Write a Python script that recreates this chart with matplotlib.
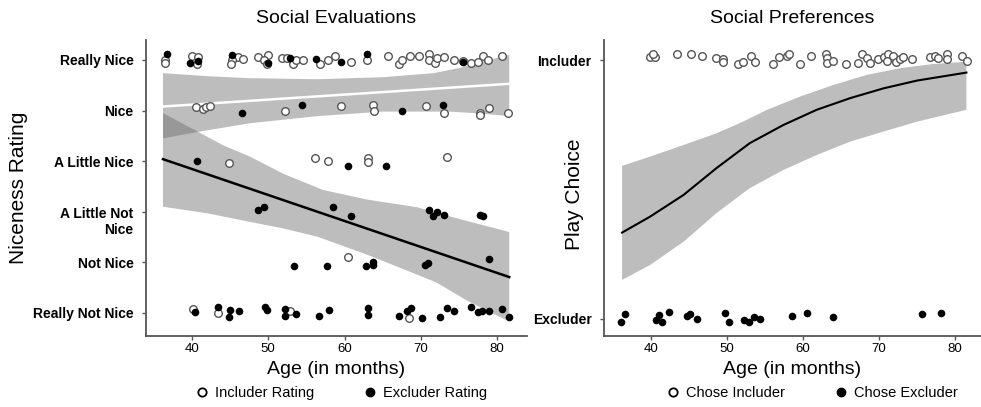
import matplotlib.pyplot as plt
from matplotlib.lines import Line2D
from matplotlib.transforms import ScaledTranslation

plt.rcParams['font.family'] = ['Liberation Sans', 'DejaVu Sans']

# ---- Social Evaluations: ratings (1 = Really Not Nice ... 6 = Really Nice) ----
rating_labels = ["Really Not Nice", "Not Nice", "A Little Not\nNice",
                 "A Little Nice", "Nice", "Really Nice"]

incl_age = [36.5, 36.5, 40.0, 40.8, 40.6, 46.0, 46.7, 45.2, 45.1, 48.7, 50.0, 49.4,
            49.8, 51.8, 52.4, 53.3, 53.2, 53.7, 54.5, 56.8, 57.9, 58.7, 60.9, 62.9,
            65.7, 67.1, 67.6, 68.6, 69.8, 71.1, 71.1, 71.9, 72.1, 73.0, 74.4, 75.6,
            76.6, 77.5, 78.2, 78.8, 80.7,
            40.5, 41.5, 41.9, 42.4, 52.2, 59.5, 63.7, 63.9, 70.7, 73.1, 77.8, 77.8,
            78.9, 81.5,
            44.8, 56.1, 57.9, 63.1, 63.1, 73.4,
            60.4,
            40.1, 43.4, 52.9, 68.4]
incl_rating = [6.00, 5.94, 6.07, 6.06, 5.92, 6.05, 6.01, 6.00, 5.92, 6.05, 6.10, 6.00,
               5.92, 6.03, 6.03, 5.97, 5.92, 6.00, 6.00, 5.93, 6.00, 6.08, 5.97, 5.99,
               6.08, 5.92, 5.99, 6.08, 6.08, 6.11, 6.00, 5.95, 6.04, 6.05, 6.00, 5.98,
               5.95, 5.96, 6.08, 6.00, 6.08,
               5.08, 5.03, 5.07, 5.10, 4.99, 5.10, 5.11, 4.99, 5.09, 4.96, 4.96, 4.91,
               5.05, 4.95,
               3.96, 4.07, 4.01, 4.06, 3.99, 4.09,
               2.10,
               1.08, 1.00, 1.04, 0.91]

excl_age = [36.7, 39.8, 40.8, 45.2, 50.0, 52.9, 56.3, 59.6, 62.9, 75.5,
            46.6, 54.4, 67.6, 72.9,
            40.6, 60.4, 65.5,
            48.6, 49.4, 58.5, 60.9, 71.1, 72.1, 71.6, 73.1, 77.8, 78.2,
            53.4, 57.7, 62.8, 63.8, 63.8, 70.6, 71.0, 78.9,
            40.4, 43.4, 44.8, 45.0, 46.1, 49.6, 49.8, 52.2, 52.2, 53.7, 56.7, 58.0,
            63.1, 63.1, 67.1, 68.2, 68.7, 70.1, 72.5, 73.5, 74.3, 76.6, 77.5, 78.0,
            78.9, 80.7, 81.6]
excl_rating = [6.11, 5.94, 5.98, 6.10, 5.95, 6.03, 6.02, 5.97, 6.11, 5.97,
               4.95, 5.11, 5.00, 5.11,
               4.01, 3.91, 3.91,
               3.04, 3.09, 3.09, 2.92, 3.03, 3.00, 2.92, 2.94, 2.94, 2.92,
               1.93, 1.93, 1.93, 2.01, 1.95, 1.95, 1.99, 2.06,
               1.01, 1.12, 0.93, 1.05, 1.03, 1.11, 1.06, 1.08, 0.94, 0.97, 0.95, 1.05,
               1.09, 0.96, 0.95, 1.04, 1.10, 0.91, 0.93, 1.09, 1.04, 1.11, 1.02, 1.04,
               1.04, 1.08, 0.93]

# fitted lines and confidence bands
incl_fit_age = [36.2, 81.6]
incl_fit = [5.08, 5.53]
incl_up_age = [36.2, 42.0, 47.6, 56.4, 65.1, 71.7, 75.0, 78.2, 81.6]
incl_up = [5.74, 5.68, 5.64, 5.62, 5.66, 5.74, 5.84, 5.97, 6.10]
incl_lo_age = [36.2, 40.8, 47.6, 56.4, 65.0, 73.8, 78.0, 81.6]
incl_lo = [4.45, 4.58, 4.75, 4.89, 4.98, 4.98, 4.94, 4.89]

excl_fit_age = [36.2, 81.6]
excl_fit = [4.04, 1.71]
excl_up_age = [36.2, 40.8, 44.0, 47.6, 52.0, 57.2, 63.0, 69.5, 75.0, 81.6]
excl_up = [4.95, 4.58, 4.32, 4.09, 3.75, 3.43, 3.24, 3.09, 2.86, 2.60]
excl_lo_age = [36.2, 42.0, 47.6, 52.0, 56.4, 63.0, 68.0, 72.1, 76.0, 81.6]
excl_lo = [3.10, 2.97, 2.80, 2.67, 2.51, 2.15, 1.85, 1.60, 1.25, 0.83]

# ---- Social Preferences: play choice (1 = Includer, 0 = Excluder) ----
choice_labels = ["Excluder", "Includer"]

ci_age = [39.9, 40.5, 40.3, 43.4, 45.3, 46.7, 48.6, 49.5, 49.5, 51.5, 52.1, 53.2,
          53.7, 56.1, 56.8, 57.9, 58.1, 59.6, 61.0, 63.0, 63.1, 63.1, 63.9, 65.6,
          67.2, 67.7, 68.4, 68.8, 69.9, 70.6, 71.2, 71.0, 71.9, 72.3, 72.8, 73.2,
          74.3, 76.7, 77.4, 77.8, 78.9, 78.9, 80.9, 81.6]
ci_val = [1.015, 1.015, 1.023, 1.026, 1.023, 1.019, 1.010, 1.006, 0.993, 0.985,
          0.993, 1.019, 0.993, 0.985, 1.015, 1.019, 1.023, 0.987, 1.019, 1.026,
          1.010, 0.990, 0.997, 0.987, 0.990, 1.026, 1.010, 0.990, 1.006, 1.013,
          1.023, 0.997, 1.019, 0.993, 1.006, 1.013, 1.006, 1.013, 1.019, 1.010,
          1.023, 1.006, 1.019, 0.997]

ce_age = [36.1, 36.6, 40.7, 41.0, 41.5, 42.4, 44.7, 45.1, 46.0, 49.7, 50.2, 52.3,
          52.9, 53.5, 54.3, 58.6, 60.5, 63.9, 75.6, 78.2]
ce_val = [-0.010, 0.019, -0.004, 0.015, -0.013, 0.026, 0.012, 0.019, -0.001, 0.022,
          -0.013, -0.006, -0.013, 0.009, 0.000, 0.013, 0.022, 0.007, 0.018, 0.022]

pref_fit_age = [36.2, 39.9, 44.3, 48.6, 53.0, 57.4, 61.8, 66.2, 70.6, 75.0, 81.5]
pref_fit = [0.334, 0.396, 0.480, 0.583, 0.680, 0.750, 0.809, 0.854, 0.892, 0.922, 0.953]
pref_up_age = [36.2, 39.9, 44.3, 48.6, 52.1, 55.2, 59.6, 64.0, 68.4, 72.8, 77.1, 81.5]
pref_up = [0.592, 0.628, 0.673, 0.718, 0.763, 0.808, 0.860, 0.905, 0.944, 0.970,
           0.986, 0.995]
pref_lo_age = [36.2, 39.9, 44.3, 48.6, 53.0, 57.4, 61.8, 66.2, 70.6, 75.0, 81.5]
pref_lo = [0.151, 0.209, 0.299, 0.409, 0.506, 0.576, 0.634, 0.686, 0.725, 0.763, 0.809]

band_color = "#6d6d6d"
band_alpha = 0.45
edge_grey = "#555555"


def band(ax, up_x, up_y, lo_x, lo_y):
    xs = list(up_x) + list(lo_x)[::-1]
    ys = list(up_y) + list(lo_y)[::-1]
    ax.fill(xs, ys, color=band_color, alpha=band_alpha, lw=0, zorder=1)


def style_axes(ax):
    for s in ["top", "right"]:
        ax.spines[s].set_visible(False)
    for s in ["left", "bottom"]:
        ax.spines[s].set_color(edge_grey)
        ax.spines[s].set_linewidth(1.3)
    ax.tick_params(axis="both", colors=edge_grey, length=3, width=1)
    ax.tick_params(axis="x", labelsize=9.5, labelcolor="black", pad=2)
    ax.tick_params(axis="y", labelsize=10, labelcolor="black", pad=6)
    for lab in ax.get_yticklabels():
        lab.set_fontweight("bold")
    ax.set_xticks([40, 50, 60, 70, 80])


fig = plt.figure(figsize=(9.81, 4.07), dpi=100)
ax1 = fig.add_axes([146 / 981, 71 / 407, 381 / 981, 296 / 407])
ax2 = fig.add_axes([604 / 981, 71 / 407, 377 / 981, 296 / 407])

# left panel
band(ax1, incl_up_age, incl_up, incl_lo_age, incl_lo)
band(ax1, excl_up_age, excl_up, excl_lo_age, excl_lo)
ax1.plot(incl_fit_age, incl_fit, color="white", lw=1.8, zorder=2)
ax1.plot(excl_fit_age, excl_fit, color="black", lw=1.8, zorder=2)
ax1.scatter(incl_age, incl_rating, s=30, facecolors="white", edgecolors=edge_grey,
            linewidths=1.0, zorder=3)
ax1.scatter(excl_age, excl_rating, s=30, color="black", lw=0, zorder=4)
ax1.set_xlim(33.97, 83.93)
ax1.set_ylim(0.545, 6.395)
ax1.set_yticks(range(1, 7))
ax1.set_yticklabels(rating_labels)
style_axes(ax1)
ax1.set_title("Social Evaluations", fontsize=14, pad=12)
ax1.set_xlabel("Age (in months)", fontsize=14, labelpad=4)
ax1.set_ylabel("Niceness Rating", fontsize=15)
ax1.yaxis.set_label_coords(-0.31, 0.5)

# the two-line label sits a little lower than its tick, as in the original
two_line = ax1.get_yticklabels()[2]
two_line.set_transform(two_line.get_transform()
                       + ScaledTranslation(0, -8 / 100, fig.dpi_scale_trans))

# right panel
band(ax2, pref_up_age, pref_up, pref_lo_age, pref_lo)
ax2.plot(pref_fit_age, pref_fit, color="black", lw=1.5, zorder=2)
ax2.scatter(ci_age, ci_val, s=30, facecolors="white", edgecolors=edge_grey,
            linewidths=1.0, zorder=3)
ax2.scatter(ce_age, ce_val, s=30, color="black", lw=0, zorder=4)
ax2.set_xlim(33.82, 83.42)
ax2.set_ylim(-0.066, 1.079)
ax2.set_yticks([0, 1])
ax2.set_yticklabels(choice_labels)
style_axes(ax2)
ax2.set_title("Social Preferences", fontsize=14, pad=12)
ax2.set_xlabel("Age (in months)", fontsize=14, labelpad=4)
ax2.set_ylabel("Play Choice", fontsize=15)
ax2.yaxis.set_label_coords(-0.053, 0.48)

# legends below each panel
def legend_handles(a, b):
    return [Line2D([], [], ls="", marker="o", ms=6, mfc="white", mec="black", mew=1.3, label=a),
            Line2D([], [], ls="", marker="o", ms=6, mfc="black", mec="black", label=b)]


fig.legend(handles=legend_handles("Includer Rating", "Excluder Rating"), ncol=2,
           loc="center", bbox_to_anchor=(340 / 981, 1 - 393 / 407), frameon=False,
           fontsize=10.5, handletextpad=0.3, columnspacing=3.2, handlelength=1.2)
fig.legend(handles=legend_handles("Chose Includer", "Chose Excluder"), ncol=2,
           loc="center", bbox_to_anchor=(811 / 981, 1 - 393 / 407), frameon=False,
           fontsize=10.5, handletextpad=0.3, columnspacing=3.2, handlelength=1.2)

fig.savefig("out.png", dpi=100)
